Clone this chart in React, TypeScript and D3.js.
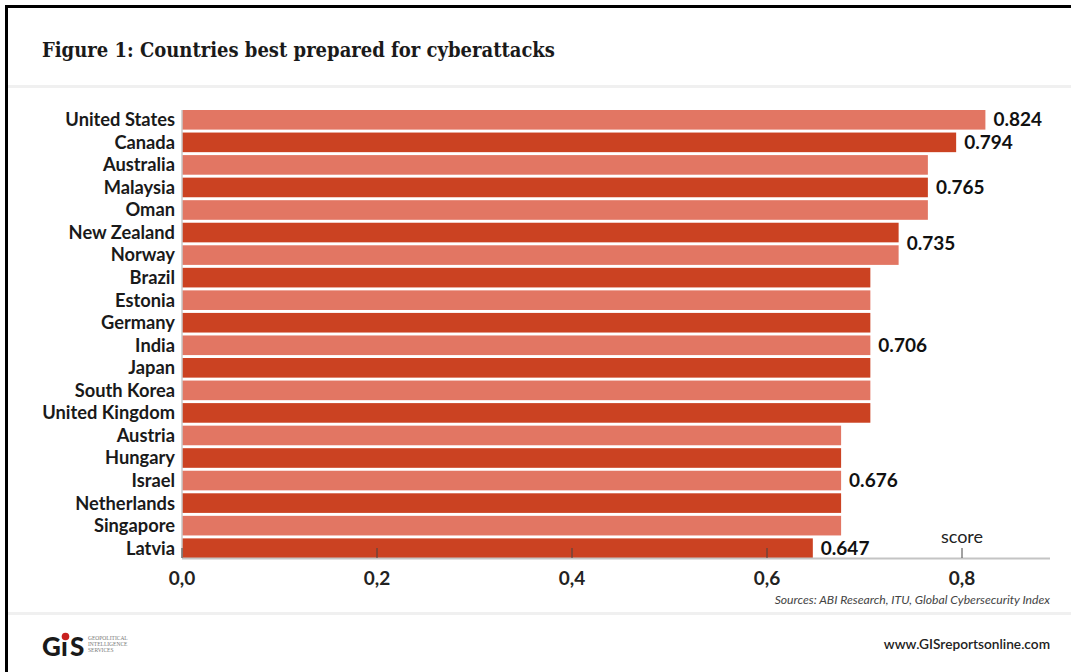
import React from "react";
import * as d3 from "d3";

const countries = [
  "United States", "Canada", "Australia", "Malaysia", "Oman", "New Zealand", "Norway",
  "Brazil", "Estonia", "Germany", "India", "Japan", "South Korea", "United Kingdom",
  "Austria", "Hungary", "Israel", "Netherlands", "Singapore", "Latvia",
];
const scores = [
  0.824, 0.794, 0.765, 0.765, 0.765, 0.735, 0.735,
  0.706, 0.706, 0.706, 0.706, 0.706, 0.706, 0.706,
  0.676, 0.676, 0.676, 0.676, 0.676, 0.647,
];
const xTicks = [0, 0.2, 0.4, 0.6, 0.8];
const tickLabels = ["0,0", "0,2", "0,4", "0,6", "0,8"];

const W = 1071;
const H = 672;
const LIGHT = "#E27663";
const DARK = "#CB4222";

export default function App() {
  const x = d3.scaleLinear().domain([0, 0.8]).range([182, 962]);
  const y = d3.scaleBand<string>().domain(countries).range([110, 558]).paddingInner(0.13).paddingOuter(0);
  const bw = y.bandwidth();

  const groups: { value: number; names: string[] }[] = [];
  scores.forEach((v, i) => {
    const last = groups[groups.length - 1];
    if (last && last.value === v) last.names.push(countries[i]);
    else groups.push({ value: v, names: [countries[i]] });
  });

  return (
    <div style={{ position: "absolute", left: 0, top: 0 }}>
      <svg width={W} height={H} style={{ display: "block", background: "#fff" }}>
        <line x1={6.5} y1={6.5} x2={W} y2={6.5} stroke="#000" strokeWidth={3} />
        <line x1={6.5} y1={5} x2={6.5} y2={H} stroke="#000" strokeWidth={3} />
        <rect x={8} y={85} width={W - 8} height={3} fill="#f0f0f0" />
        <rect x={8} y={612} width={W - 8} height={3} fill="#f0f0f0" />

        <text x={42} y={57} fontFamily="'DejaVu Serif Condensed', 'DejaVu Serif', serif" fontStretch="condensed"
          fontWeight={700} fontSize={20} fill="#1a1a1a">
          Figure 1: Countries best prepared for cyberattacks
        </text>

        {countries.map((c, i) => (
          <rect key={c} x={x(0)} y={y(c)} width={x(scores[i]) - x(0)} height={bw} fill={i % 2 === 0 ? LIGHT : DARK} />
        ))}

        {countries.map((c) => (
          <text key={c} x={175} y={(y(c) as number) + bw / 2} dy="0.35em" textAnchor="end"
            fontFamily="Lato" fontWeight={700} fontSize={18.3} fill="#1a1a1a">
            {c}
          </text>
        ))}

        {groups.map((g) => {
          const cy = d3.mean(g.names, (n) => (y(n) as number) + bw / 2) as number;
          return (
            <text key={g.value} x={x(g.value) + 8} y={cy} dy="0.35em"
              fontFamily="Lato" fontWeight={700} fontSize={19} fill="#111">
              {g.value.toFixed(3)}
            </text>
          );
        })}

        <line x1={x(0)} y1={110} x2={x(0)} y2={558} stroke="#c8c8c8" strokeWidth={1.5} />
        <line x1={x(0)} y1={558.5} x2={1050} y2={558.5} stroke="#c4c4c4" strokeWidth={2} />
        {xTicks.map((t, i) => (
          <g key={t}>
            <line x1={x(t)} y1={548} x2={x(t)} y2={558} stroke="#444" strokeWidth={1} />
            <text x={x(t)} y={585} textAnchor="middle" fontFamily="Lato" fontWeight={700} fontSize={19} fill="#222">
              {tickLabels[i]}
            </text>
          </g>
        ))}
        <text x={x(0.8)} y={543} textAnchor="middle" fontFamily="Lato" fontSize={18} fill="#222">score</text>

        <text x={1050} y={604} textAnchor="end" fontFamily="Lato" fontStyle="italic" fontSize={12.2} fill="#444">
          Sources:  ABI Research, ITU, Global Cybersecurity Index
        </text>

        <text x={42} y={656} fontFamily="Lato" fontWeight={900} fontSize={26} fill="#1a1a1a" letterSpacing={-1}>
          G
        </text>
        <text x={61} y={656} fontFamily="Lato" fontWeight={900} fontSize={26} fill="#1a1a1a">
          ı
        </text>
        <circle cx={65.5} cy={636.5} r={3.8} fill="#C8201E" />
        <text x={70} y={656} fontFamily="Lato" fontWeight={900} fontSize={26} fill="#1a1a1a">
          S
        </text>
        <text x={88} y={640} fontFamily="Liberation Serif" fontSize={5.5} fill="#777">GEOPOLITICAL</text>
        <text x={88} y={646} fontFamily="Liberation Serif" fontSize={5.5} fill="#777">INTELLIGENCE</text>
        <text x={88} y={652} fontFamily="Liberation Serif" fontSize={5.5} fill="#777">SERVICES</text>

        <text x={1050} y={649} textAnchor="end" fontFamily="Lato" fontWeight={600} fontSize={13.7} fill="#222">
          www.GISreportsonline.com
        </text>
      </svg>
    </div>
  );
}
